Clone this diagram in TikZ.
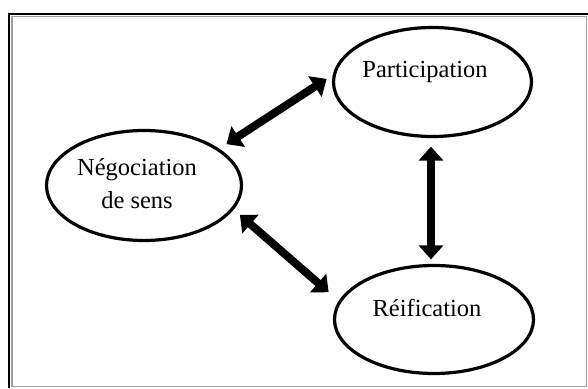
\documentclass[tikz,border=0pt]{standalone}
\usepackage{fontspec}
\setmainfont{Liberation Serif}
\usetikzlibrary{shapes.geometric,arrows.meta}
\tikzset{
  ell/.style={draw=black, line width=3.2pt, ellipse, inner sep=0pt, minimum width=198pt, minimum height=109pt},
  lbl/.style={inner sep=0pt, font=\fontsize{24.5}{33}\selectfont, align=center},
  biarrow/.style={line width=8pt, {Triangle[width=24pt,length=14pt]}-{Triangle[width=24pt,length=14pt]}},
}
\begin{document}
\begin{tikzpicture}[x=1pt,y=1pt]
\useasboundingbox (0,0) rectangle (588,388);
% frame
\draw[gray!75, line width=1.2pt] (12,1.3) rectangle (586.7,371.5);
\draw[black, line width=2.6pt] (9,0) -- (9,374) -- (588,374);
% ellipses
\node[ell] (par) at (432.5,306) {};
\node[ell, minimum width=199pt, minimum height=108pt] (rei) at (434,68.5) {};
\node[ell, minimum width=195pt, minimum height=110pt] (neg) at (144,202.5) {};
% texts
\node[lbl] (parT) at (425,316) {Participation};
\node[lbl] (reiT) at (427,80) {Réification};
\node[lbl] (negT) at (137,204.5) {Négociation\\de sens};
% arrows
\draw[biarrow, shorten <=8.5pt, shorten >=7.2pt] (neg.26) -- (par.176.6);
\draw[biarrow, shorten <=8.2pt, shorten >=13.3pt] (neg.-15.4) -- (rei.169.2);
\draw[biarrow, shorten <=8.5pt, shorten >=4.5pt] ([xshift=-1.5pt]par.south) -- ([xshift=-3pt]rei.north);
\end{tikzpicture}
\end{document}
